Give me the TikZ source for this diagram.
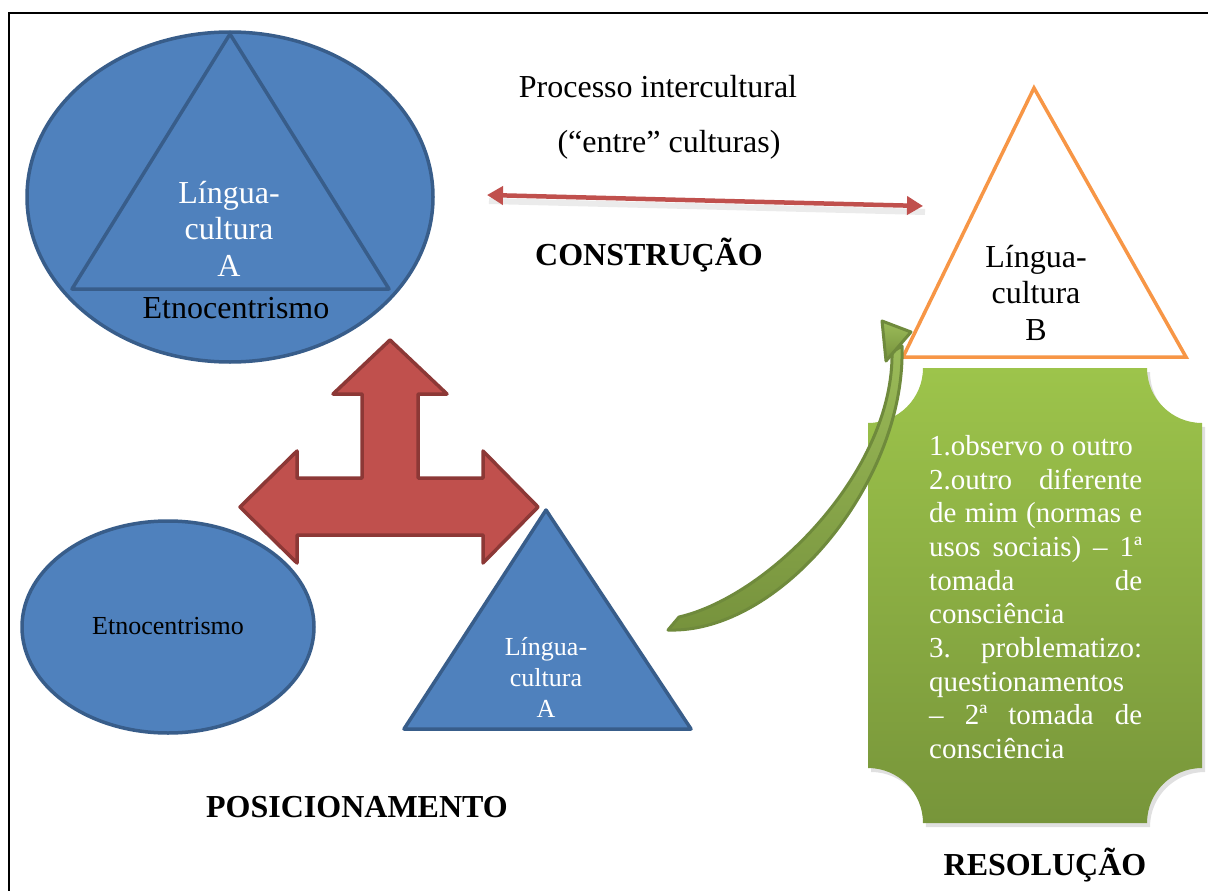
\documentclass[tikz,border=0pt]{standalone}
\usepackage{fontspec}
\setmainfont{Liberation Serif}
\usetikzlibrary{arrows.meta,shapes.geometric}
\definecolor{bfill}{HTML}{4F81BD}
\definecolor{bline}{HTML}{385D8A}
\definecolor{rfill}{HTML}{C0504D}
\definecolor{rline}{HTML}{8C3836}
\definecolor{oline}{HTML}{F79646}
\definecolor{gtop}{HTML}{9DC44B}
\definecolor{gbot}{HTML}{77953A}
\definecolor{gline}{HTML}{6F8A3C}
\definecolor{glight}{HTML}{9BBB59}
\definecolor{gdark}{HTML}{76923C}
\newcommand\setfs[2]{\fontsize{#1}{#2}\selectfont}
% centred stack of lines whose baseline is the first line's baseline
\newcommand\linesc[1]{\vtop{\halign{\hfil##\hfil\cr#1\crcr}}}
\begin{document}
\begin{tikzpicture}[x=1pt,y=-1pt,
  blueshape/.style={fill=bfill,draw=bline,line width=3.5pt,line join=round},
  blueoval/.style={blueshape,ellipse,inner sep=0pt},
  txt/.style={anchor=base,inner sep=0pt,font=\setfs{32}{36.5}},
  smalltxt/.style={anchor=base,inner sep=0pt,font=\setfs{26}{31}},
  headtxt/.style={anchor=base,inner sep=0pt,font=\setfs{32}{36}\bfseries},
  redarrow/.style={draw=rline,fill=rfill,line width=3.5pt,line join=round},
  plaque/.style={top color=gtop,bottom color=gbot,draw=none},
  greenarrow/.style={draw=gline,top color=glight,bottom color=gdark,line width=3pt,line join=round},
]
\useasboundingbox (0,0) rectangle (1208,891);
\fill[white] (0,0) rectangle (1208,891);
% frame
\draw[line width=2.5pt] (9,891) -- (9,13) -- (1208,13);

% ---- language-culture A inside ethnocentrism
\node[blueoval,minimum width=406pt,minimum height=330pt] (ethA) at (230,197) {};
\draw[blueshape] (230,34) -- (72,289) -- (389,289) -- cycle;
\node[txt,text=white] (lcA) at (229,203) {\linesc{Língua-\cr cultura\cr A}};
\node[txt] (ethAtxt) at (236,318) {Etnocentrismo};

% ---- intercultural process
\node[txt] (proc) at (658,98) {Processo intercultural};
\node[txt] (entre) at (669,152) {(“entre” culturas)};
\coordinate (pl) at (487,195);
\coordinate (pr) at (923,206);
\draw[line width=6pt,black,opacity=0.08] ([shift={(2,6)}]pl) -- ([shift={(2,6)}]pr);
\draw[line width=4.5pt,rfill,{Triangle[length=16pt,width=18pt]}-{Triangle[length=16pt,width=18pt]}] (pl) -- (pr);
\node[headtxt] (constr) at (649,265) {CONSTRUÇÃO};

% ---- language-culture B
\draw[line width=3.5pt,draw=oline,fill=white,line join=miter] (1034,88) -- (903,357) -- (1186,357) -- cycle;
\node[txt] (lcB) at (1036,267) {\linesc{Língua-\cr cultura\cr B}};

% ---- positioning
\node[blueoval,minimum width=292pt,minimum height=212pt] (ethB) at (168,627) {};
\node[smalltxt] (ethBtxt) at (168,634) {Etnocentrismo};
\draw[blueshape] (546,510) -- (404,729) -- (691,729) -- cycle;
\node[smalltxt,text=white] (lcA2) at (546,655) {\linesc{Língua-\cr cultura\cr A}};
\draw[redarrow] (390,340) -- (447,394) -- (418,394) -- (418,478) -- (483,478)
  -- (483,451) -- (538,507) -- (483,563) -- (483,535) -- (297,535) -- (297,563)
  -- (240,507) -- (297,451) -- (297,478) -- (362,478) -- (362,394) -- (333,394) -- cycle;
\node[headtxt] (posic) at (357,817) {POSICIONAMENTO};

% ---- resolution plaque
\fill[black,opacity=0.12] (926,372) -- (1150,372)
  arc[start angle=180,end angle=90,radius=55] -- (1205,772)
  arc[start angle=270,end angle=180,radius=55] -- (926,827)
  arc[start angle=0,end angle=-90,radius=55] -- (871,427)
  arc[start angle=90,end angle=0,radius=55] -- cycle;
\path[plaque] (923,368) -- (1147,368)
  arc[start angle=180,end angle=90,radius=55] -- (1202,768)
  arc[start angle=270,end angle=180,radius=55] -- (923,823)
  arc[start angle=0,end angle=-90,radius=55] -- (868,423)
  arc[start angle=90,end angle=0,radius=55] -- cycle;
\node[anchor=north west,inner sep=0pt,text=white,font=\setfs{29}{33.7},align=left] (steps) at (929,435) {%
\makebox[213pt][l]{1.observo o outro}\\
\makebox[213pt]{2.outro\hfill diferente}\\
\makebox[213pt]{de\hfill mim\hfill (normas\hfill e}\\
\makebox[213pt]{usos\hfill sociais)\hfill –\hfill 1ª}\\
\makebox[213pt]{tomada\hfill de}\\
\makebox[213pt][l]{consciência}\\
\makebox[213pt]{3.\hfill problematizo:}\\
\makebox[213pt][l]{questionamentos}\\
\makebox[213pt]{–\hfill 2ª\hfill tomada\hfill de}\\
\makebox[213pt][l]{consciência}};
\node[headtxt] (resol) at (1045,875) {RESOLUÇÃO};

% ---- curved arrow from positioning to language-culture B
\coordinate (gtu) at (679,617);
\coordinate (gtl) at (668,630);
\coordinate (ghl) at (892,352);
\coordinate (ghr) at (902,346);
\path[greenarrow] (gtu) .. controls (770,596) and (894,470) .. (ghl)
  -- (ghr) .. controls (906,482) and (780,634) .. (gtl) -- cycle;
\path[greenarrow] (882,321) -- (911,332) -- (886,361) -- cycle;
\end{tikzpicture}
\end{document}
